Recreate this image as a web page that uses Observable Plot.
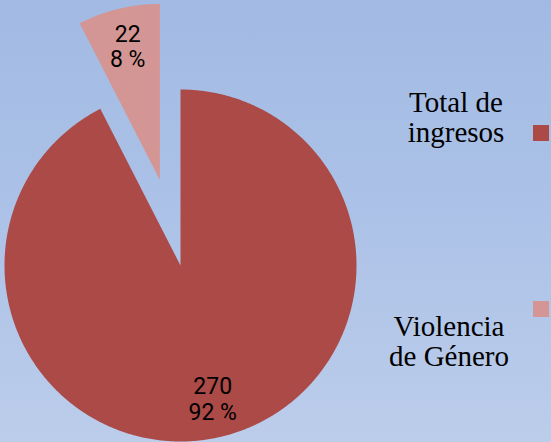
<!DOCTYPE html>
<html>
<head>
<meta charset="utf-8">
<script src="https://cdn.jsdelivr.net/npm/d3@7"></script>
<script src="https://cdn.jsdelivr.net/npm/@observablehq/plot@0.6"></script>
<style>
  html, body { margin: 0; padding: 0; }
  #wrap {
    position: relative; width: 551px; height: 442px; overflow: hidden;
    background: linear-gradient(180deg, #a2bae3 0%, #abc1e7 45%, #bccdeb 100%);
  }
  #wrap svg { position: absolute; left: 0; top: 0; background: transparent; }
  .leg { position: absolute; font-family: "Liberation Serif", "Times New Roman", serif; font-size: 29px; line-height: 30px; color: #000; text-align: center; white-space: nowrap; transform: translateX(-50%); }
  .sw { position: absolute; width: 16px; height: 16px; }
</style>
</head>
<body>
<div id="wrap"></div>
<script>
const categories = ["Total de ingresos", "Violencia de Género"];
const values = [270, 22];
const colors = ["#ab4a47", "#d49694"];
const exploded = [0, 0.5];

const total = d3.sum(values);
const arcs = d3.pie().sort(null).startAngle(0).endAngle(2 * Math.PI)(values);

const pts = [];
const labels = [];
arcs.forEach((a, i) => {
  const mid = (a.startAngle + a.endAngle) / 2;
  const ox = Math.sin(mid) * exploded[i];
  const oy = Math.cos(mid) * exploded[i];
  pts.push({name: categories[i], x: ox, y: oy});
  const n = Math.max(2, Math.ceil((a.endAngle - a.startAngle) / (Math.PI / 360)));
  for (let k = 0; k <= n; k++) {
    const t = a.startAngle + (a.endAngle - a.startAngle) * k / n;
    pts.push({name: categories[i], x: ox + Math.sin(t), y: oy + Math.cos(t)});
  }
  pts.push({name: categories[i], x: ox, y: oy});
  const lr = 0.78;
  labels.push({
    name: categories[i],
    x: ox + Math.sin(mid) * lr,
    y: oy + Math.cos(mid) * lr,
    text: `${values[i]}\n${Math.round(values[i] / total * 100)} %`
  });
});

const R = 176, cx = 180, cy = 265, W = 551, H = 442;
const chart = Plot.plot({
  width: W, height: H,
  margin: 0,
  x: {domain: [-cx / R, (W - cx) / R], range: [0, W], axis: null},
  y: {domain: [-(H - cy) / R, cy / R], range: [H, 0], axis: null},
  color: {domain: categories, range: colors},
  style: {background: "transparent"},
  marks: [
    Plot.line(pts, {x: "x", y: "y", z: "name", fill: "name", stroke: null, curve: "linear"}),
    Plot.text(labels, {x: "x", y: "y", text: "text", fontSize: 23, lineHeight: 1.09,
      fontFamily: "Roboto, 'Open Sans', sans-serif", fill: "#000"})
  ]
});
const wrap = document.getElementById("wrap");
wrap.appendChild(chart);

// legend
const legPos = [
  {cx: 456, top: 87, sw: 125},
  {cx: 449, top: 311, sw: 301}
];
categories.forEach((c, i) => {
  const words = c.split(" ");
  const half = i === 0 ? 2 : 1;
  const l1 = words.slice(0, half).join(" ");
  const l2 = words.slice(half).join(" ");
  const d = document.createElement("div");
  d.className = "leg";
  d.style.left = legPos[i].cx + "px";
  d.style.top = legPos[i].top + "px";
  d.innerHTML = l1 + "<br>" + l2;
  wrap.appendChild(d);
  const s = document.createElement("div");
  s.className = "sw";
  s.style.left = "533px";
  s.style.top = legPos[i].sw + "px";
  s.style.background = colors[i];
  wrap.appendChild(s);
});
</script>
</body>
</html>
